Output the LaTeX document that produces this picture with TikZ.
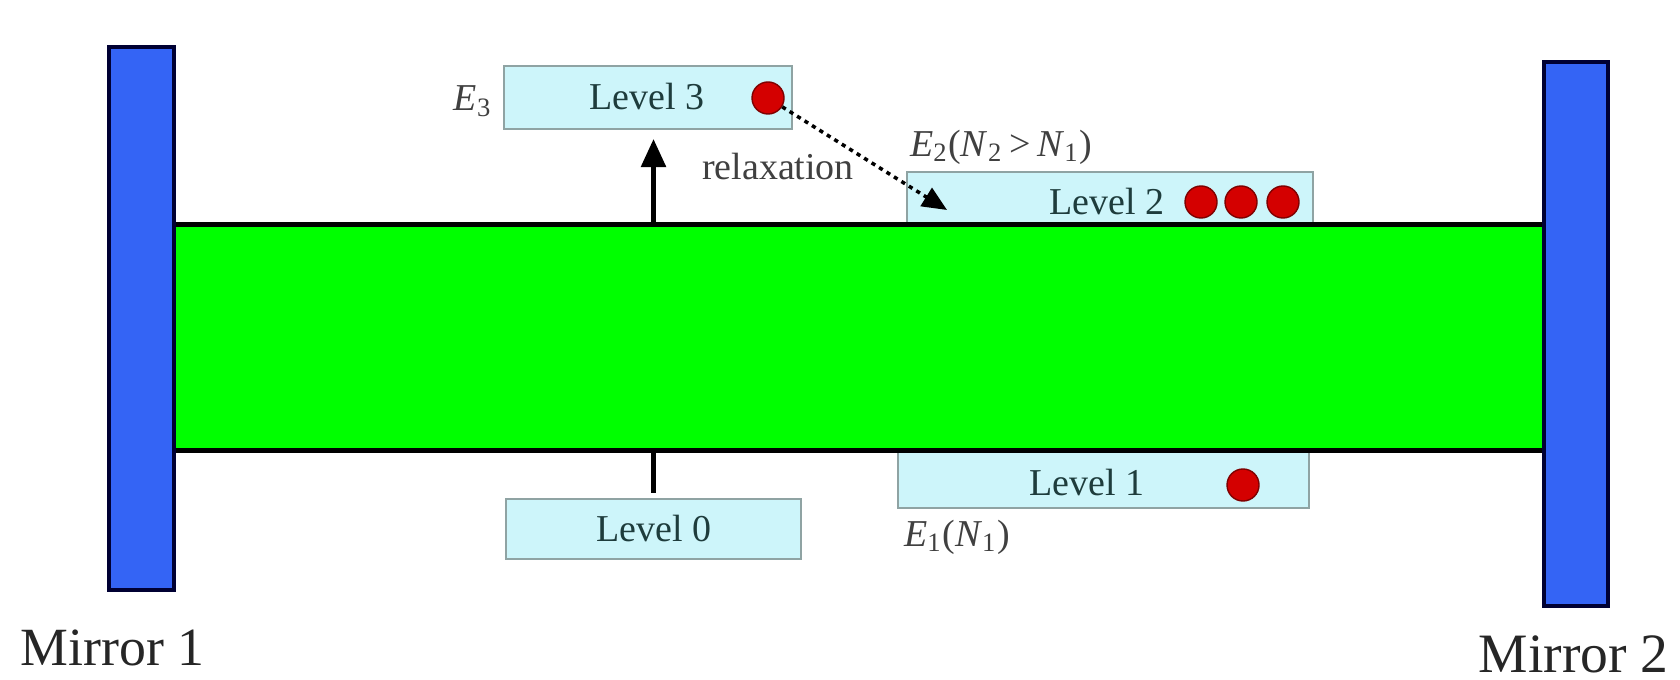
\documentclass[tikz,border=0pt]{standalone}
\usepackage{fontspec}
\setmainfont{Liberation Serif}
\usetikzlibrary{arrows.meta}
\definecolor{mirrorblue}{HTML}{3464F5}
\definecolor{mirroredge}{HTML}{000033}
\definecolor{lasergreen}{HTML}{00FF00}
\definecolor{boxfill}{HTML}{CDF5FA}
\definecolor{boxedge}{HTML}{8FA3A3}
\definecolor{lvltext}{HTML}{1E3C3C}
\definecolor{dotred}{HTML}{D40000}
\begin{document}
\begin{tikzpicture}[x=0.01cm,y=-0.01cm,
  lvlbox/.style={draw=boxedge, line width=0.6pt, fill=boxfill, inner sep=0pt},
  lvltxt/.style={text=lvltext, font=\fontsize{10.8}{12}\selectfont, inner sep=0pt},
  atom/.style={circle, fill=dotred, draw=dotred!60!black, line width=0.4pt, minimum size=0.32cm, inner sep=0pt},
  mirror/.style={draw=mirroredge, line width=1pt, fill=mirrorblue, inner sep=0pt},
  elabel/.style={font=\fontsize{10.8}{12}\selectfont, text=black!75, inner sep=0pt},
  mlabel/.style={text=black!85, inner sep=0pt},
  pump/.style={line width=1.2pt, -{Triangle[length=8pt,width=7pt]}},
  relax/.style={line width=1pt, dash pattern=on 1.2pt off 1.3pt, -{Triangle[length=7pt,width=6pt]}},
]
\useasboundingbox (0,0) rectangle (1680,680);

% level boxes (drawn before the gain medium, which hides part of them)
\node[lvlbox, minimum width=2.88cm, minimum height=0.63cm] (l3) at (648,97.5) {};
\node[lvlbox, minimum width=4.06cm, minimum height=0.56cm] (l2) at (1110,200) {};
\node[lvlbox, minimum width=4.11cm, minimum height=0.58cm] (l1) at (1103.5,479) {};
\node[lvlbox, minimum width=2.95cm, minimum height=0.60cm] (l0) at (653.5,529) {};

% gain medium
\node[fill=lasergreen, inner sep=0pt, minimum width=13.70cm, minimum height=2.25cm] (gain) at (859,337.5) {};
\draw[line width=1.45pt] (gain.north west) -- (gain.north east);
\draw[line width=1.45pt] (gain.south west) -- (gain.south east);

% mirrors
\node[mirror, minimum width=0.65cm, minimum height=5.43cm] (m1) at (141.5,318.5) {};
\node[mirror, minimum width=0.64cm, minimum height=5.44cm] (m2) at (1576,334) {};
\node[mlabel, font=\fontsize{15.3}{17}\selectfont, anchor=base west] (m1t) at (20,665) {Mirror 1};
\node[mlabel, font=\fontsize{15.8}{18}\selectfont, anchor=base west] (m2t) at (1478,672) {Mirror 2};

% level texts
\node[lvltxt] (l3t) at (647,97) {Level 3};
\node[lvltxt] (l2t) at (1107,202) {Level 2};
\node[lvltxt] (l1t) at (1087,483) {Level 1};
\node[lvltxt] (l0t) at (654,529) {Level 0};

% energy labels
\node[elabel] (e3) at (473,101) {\textit{E}\textsubscript{3}};
\node[elabel] (e2) at (1001,147) {\textit{E}\textsubscript{2}(\textit{N}\textsubscript{2}\,>\,\textit{N}\textsubscript{1})};
\node[elabel] (e1) at (957,537) {\textit{E}\textsubscript{1}(\textit{N}\textsubscript{1})};
\node[elabel] (rl) at (778,167) {relaxation};

% atoms
\node[atom] (d3) at (768,98) {};
\node[atom] (d2a) at (1201,202) {};
\node[atom] (d2b) at (1241,202) {};
\node[atom] (d2c) at (1283,202) {};
\node[atom] (d1) at (1243,485) {};

% transitions
\coordinate (relaxend) at (947,210);
\draw[pump, shorten >=0.09cm] (gain.north -| l0.north) -- (l3.south -| l0.north);
\draw[line width=1.2pt, shorten >=0.05cm] (gain.south -| l0.north) -- (l0.north);
\draw[relax] (d3.-32) -- (relaxend);
\end{tikzpicture}
\end{document}
